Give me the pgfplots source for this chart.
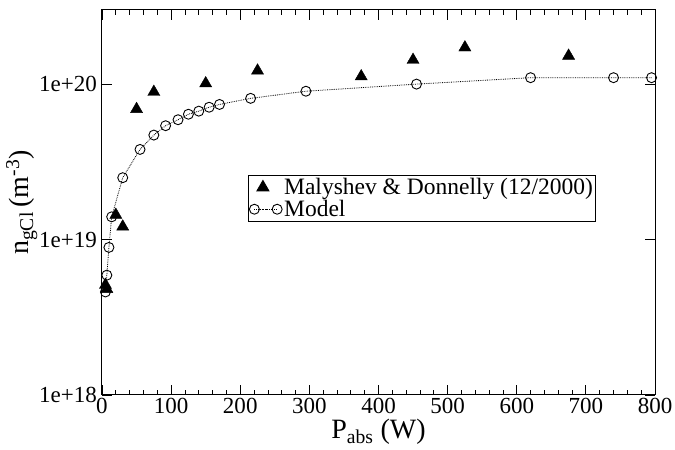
\documentclass[border=0pt]{standalone}
\usepackage{fontspec}
\setmainfont{Liberation Serif}
\usepackage{pgfplots}
\pgfplotsset{compat=1.18}
% legend sample with a mark at each end of the line
\pgfplotsset{twomark/.style={legend image code/.code={%
  \draw[mark repeat=2, mark phase=1, ##1]
    plot coordinates {(0cm,0cm) (0.4cm,0cm) (0.8cm,0cm)};}}}
\begin{document}
\begin{tikzpicture}
\begin{axis}[
  scale only axis,
  width=553pt, height=385pt,
  xmin=0, xmax=800, ymin=1e18, ymax=3e20,
  ymode=log, log basis y=10,
  xtick={0,100,...,800},
  minor x tick num=4,
  ytick={1e18,1e19,1e20},
  yticklabels={1e+18,1e+19,1e+20},
  tick align=inside,
  tick style={black, line width=0.8pt},
  major tick length=10pt, minor tick length=5pt,
  axis line style={line width=1pt},
  ticklabel style={font=\fontsize{23}{23}\selectfont},
  xticklabel style={inner sep=3pt},
  yticklabel style={inner sep=5pt},
  /pgf/number format/assume math mode=true,
  xlabel={P\textsubscript{abs} (W)},
  ylabel={n\textsubscript{gCl}\,(m\textsuperscript{-3})},
  label style={font=\fontsize{28}{28}\selectfont},
  xlabel style={at={(axis description cs:0.5,-0.096)}, anchor=center},
  ylabel style={at={(axis description cs:-0.145,0.5)}, anchor=center},
  legend style={at={(0.264,0.571)}, anchor=north west, draw=black,
    line width=0.8pt, font=\fontsize{23.5}{24}\selectfont,
    inner sep=1pt, row sep=0pt},
  legend cell align=left,
]
% Measured densities
\addplot[only marks, mark=triangle*, mark size=7pt, black] coordinates {
  (5,5.1e18) (7,4.8e18) (20,1.44e19) (30,1.21e19) (50,6.9e19) (75,8.9e19)
  (150,1.01e20) (225,1.22e20) (375,1.12e20) (450,1.43e20) (525,1.72e20)
  (675,1.52e20)
};
\addlegendentry{Malyshev \& Donnelly (12/2000)}
% Global model
\addplot[black, densely dotted, line width=0.8pt, mark=o, mark size=5pt,
  mark options={solid, line width=0.9pt}, twomark] coordinates {
  (5,4.6e18) (7,5.9e18) (10,8.9e18) (14,1.40e19) (30,2.5e19) (55,3.8e19)
  (75,4.7e19) (92,5.4e19) (110,5.9e19) (125,6.4e19) (140,6.7e19)
  (155,7.1e19) (170,7.4e19) (215,8.1e19) (295,9.0e19) (455,1.0e20)
  (620,1.1e20) (740,1.1e20) (795,1.1e20)
};
\addlegendentry{Model}
\end{axis}
% page frame: fixed margins around the axis box
\pgfresetboundingbox
\path ([shift={(-102pt,-54pt)}]current axis.south west)
  rectangle ([shift={(20pt,10pt)}]current axis.north east);
\end{tikzpicture}
\end{document}
